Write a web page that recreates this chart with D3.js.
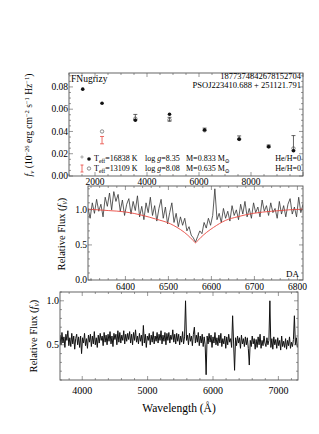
<!DOCTYPE html>
<html>
<head>
<meta charset="utf-8">
<script src="https://cdn.jsdelivr.net/npm/d3@7"></script>
<style>
  body { margin: 0; background: #fff; }
  svg { display: block; font-family: "Liberation Serif", "DejaVu Serif", serif; }
</style>
</head>
<body>
<svg width="319" height="434"></svg>
<script>
// Fotometría (FNugrizy)
const bands = ["F", "N", "u", "g", "r", "i", "z", "y"];
const bandWave = [1528, 2271, 3551, 4866, 6215, 7545, 8679, 9633];
const modelHot = [0.078, 0.0653, 0.050, 0.0554, 0.0413, 0.033, 0.0263, 0.0227];
const modelCool = [null, 0.040, 0.0515, 0.0505, 0.041, 0.0332, 0.0265, 0.0248];
const obsFlux = [null, null, 0.053, 0.051, 0.042, 0.0345, 0.0268, 0.0295];
const obsErr = [null, null, 0.0023, 0.0017, 0.001, 0.0015, 0.001, 0.0068];
const redWave = [2271];
const redFlux = [0.0322];
const redErr = [0.0033];

// Espectro alrededor de H-alfa
const haStart = 6313, haStep = 5;
const haFlux = [
  1.02, 0.88, 1.10, 0.95, 1.15, 0.98, 1.08, 0.90, 1.18, 1.05,
  1.24, 1.00, 1.26, 1.12, 1.22, 0.98, 1.14, 0.92, 1.08, 1.16,
  0.94, 1.12, 0.99, 1.20, 0.90, 1.05, 0.86, 1.10, 0.96, 1.18,
  0.92, 1.06, 0.84, 1.02, 1.15, 0.88, 1.04, 0.80, 0.96, 1.10,
  0.82, 0.95, 0.76, 0.90, 0.78, 0.88, 0.70, 0.76, 0.64, 0.60,
  0.54, 0.62, 0.70, 0.66, 0.82, 0.74, 0.88, 0.78, 0.92, 1.30,
  0.86, 0.95, 0.82, 1.02, 0.88, 0.98, 0.84, 1.06, 0.92, 1.00,
  0.86, 1.08, 0.94, 1.12, 0.90, 1.02, 0.88, 1.10, 0.96, 1.04,
  0.90, 1.14, 0.98, 1.06, 0.92, 1.10, 0.96, 1.02, 0.88, 1.12,
  0.94, 1.06, 0.90, 1.08, 1.16, 0.94, 1.04, 0.90, 1.18, 0.96,
  1.08
];
const haModelWave = [6313, 6360, 6400, 6441, 6470, 6505, 6520, 6537, 6550, 6558, 6563,
                     6568, 6576, 6589, 6605, 6633, 6660, 6697, 6740, 6780, 6813];
const haModelFlux = [1.01, 0.99, 0.97, 0.92, 0.87, 0.80, 0.75, 0.68, 0.61, 0.56, 0.53,
                     0.56, 0.61, 0.68, 0.75, 0.85, 0.90, 0.95, 0.98, 1.00, 1.01];

// Espectro completo
const specStart = 3660, specStep = 15;
const specFlux = [
  0.61, 0.50, 0.64, 0.52, 0.59, 0.47, 0.62, 0.55, 0.66, 0.49,
  0.58, 0.48, 0.63, 0.51, 0.60, 0.45, 0.57, 0.62, 0.50, 0.59,
  0.47, 0.60, 0.40, 0.58, 0.52, 0.63, 0.49, 0.57, 0.46, 0.61,
  0.53, 0.62, 0.48, 0.60, 0.51, 0.65, 0.50, 0.58, 0.47, 0.61,
  0.52, 0.63, 0.55, 0.60, 0.49, 0.64, 0.53, 0.61, 0.50, 0.62,
  0.54, 0.65, 0.51, 0.60, 0.48, 0.63, 0.56, 0.62, 0.50, 0.66,
  0.53, 0.64, 0.52, 0.61, 0.55, 0.66, 0.51, 0.62, 0.54, 0.63,
  0.56, 0.65, 0.52, 0.62, 0.50, 0.64, 0.55, 0.67, 0.53, 0.60,
  0.51, 0.63, 0.54, 0.61, 0.49, 0.72, 0.52, 0.62, 0.47, 0.60,
  0.55, 0.63, 0.50, 0.61, 0.53, 0.65, 0.51, 0.60, 0.54, 0.64,
  0.52, 0.62, 0.55, 0.66, 0.51, 0.61, 0.54, 0.64, 0.50, 0.63,
  0.55, 0.64, 0.52, 0.61, 0.56, 0.67, 0.53, 0.62, 0.51, 0.63,
  0.54, 0.62, 0.50, 0.60, 0.53, 0.65, 0.51, 0.59, 1.00, 0.55,
  0.61, 0.50, 0.63, 0.54, 0.60, 0.49, 0.62, 0.70, 0.52, 0.61,
  0.53, 0.64, 0.49, 0.60, 0.52, 0.62, 0.48, 0.59, 0.50, 0.16,
  0.60, 0.51, 0.63, 0.53, 0.61, 0.47, 0.59, 0.52, 0.64, 0.50,
  0.58, 0.49, 0.61, 0.52, 0.63, 0.48, 0.57, 0.51, 0.60, 0.46,
  0.59, 0.50, 0.62, 0.53, 0.57, 0.47, 0.83, 0.52, 0.21, 0.58,
  0.49, 0.60, 0.52, 0.58, 0.46, 0.61, 0.51, 0.57, 0.48, 0.59,
  0.50, 0.58, 0.46, 0.27, 0.55, 0.48, 0.60, 0.51, 0.57, 0.45,
  0.56, 0.47, 0.59, 0.50, 0.62, 0.46, 0.55, 0.49, 0.60, 0.52,
  0.48, 0.58, 0.50, 0.55, 1.00, 0.47, 0.57, 0.45, 0.59, 0.50,
  0.56, 0.46, 0.58, 0.49, 0.55, 0.44, 0.60, 0.48, 0.54, 0.47,
  0.57, 0.45, 0.55, 0.49, 0.59, 0.46, 0.53, 0.48, 0.56, 0.83,
  0.50, 0.58, 0.47
];

const svg = d3.select("svg");
const red = "#e8473f";

// Dibuja el marco con marcas hacia adentro en los cuatro lados
function drawFrame(g, x, y, o) {
  const [x0, x1] = x.range(), [yb, yt] = y.range();
  const isMajor = (v, step) => Math.abs(v / step - Math.round(v / step)) < 1e-6;
  const col = "#555";
  d3.range(o.xFrom, x.domain()[1] + 1e-9, o.xMinor).forEach(v => {
    if (v < x.domain()[0]) return;
    const len = isMajor(v, o.xMajor) ? 4 : 2;
    const px = x(v);
    g.append("line").attr("x1", px).attr("x2", px).attr("y1", yb).attr("y2", yb - len).attr("stroke", col).attr("stroke-width", 0.6);
    g.append("line").attr("x1", px).attr("x2", px).attr("y1", yt).attr("y2", yt + len).attr("stroke", col).attr("stroke-width", 0.6);
    if (isMajor(v, o.xMajor) && o.xLabels.includes(Math.round(v))) {
      g.append("text").attr("x", px).attr("y", yb + o.xLabelDy)
        .attr("text-anchor", "middle").attr("font-size", o.fs).text(Math.round(v));
    }
  });
  d3.range(o.yFrom, y.domain()[1] + 1e-9, o.yMinor).forEach(v => {
    if (v < y.domain()[0] - 1e-9) return;
    const len = isMajor(v, o.yMajor) ? 4 : 2;
    const py = y(v);
    g.append("line").attr("x1", x0).attr("x2", x0 + len).attr("y1", py).attr("y2", py).attr("stroke", col).attr("stroke-width", 0.6);
    g.append("line").attr("x1", x1).attr("x2", x1 - len).attr("y1", py).attr("y2", py).attr("stroke", col).attr("stroke-width", 0.6);
    if (isMajor(v, o.yMajor) && o.yLabels.some(l => Math.abs(l - v) < 1e-6)) {
      g.append("text").attr("x", x0 - 1).attr("y", py + o.fs * 0.33)
        .attr("text-anchor", "end").attr("font-size", o.fs).text(o.yFmt(v));
    }
  });
  g.append("rect").attr("x", x0).attr("y", yt).attr("width", x1 - x0).attr("height", yb - yt)
    .attr("fill", "none").attr("stroke", col).attr("stroke-width", 0.9);
}

// ---------- Panel 1: SED ----------
const x1 = d3.scaleLinear().domain([1000, 10000]).range([69, 303]);
const y1 = d3.scaleLinear().domain([0, 0.0925]).range([176, 73]);
const g1 = svg.append("g");

// barras de error observadas
bands.forEach((b, i) => {
  if (obsFlux[i] === null) return;
  const px = x1(bandWave[i]);
  g1.append("line").attr("x1", px).attr("x2", px)
    .attr("y1", y1(obsFlux[i] - obsErr[i])).attr("y2", y1(obsFlux[i] + obsErr[i]))
    .attr("stroke", "#222").attr("stroke-width", 0.7);
  [obsFlux[i] - obsErr[i], obsFlux[i] + obsErr[i]].forEach(v => {
    g1.append("line").attr("x1", px - 2).attr("x2", px + 2).attr("y1", y1(v)).attr("y2", y1(v))
      .attr("stroke", "#222").attr("stroke-width", 0.7);
  });
});
redWave.forEach((w, i) => {
  const px = x1(w);
  g1.append("line").attr("x1", px).attr("x2", px)
    .attr("y1", y1(redFlux[i] - redErr[i])).attr("y2", y1(redFlux[i] + redErr[i]))
    .attr("stroke", red).attr("stroke-width", 0.8);
  [redFlux[i] - redErr[i], redFlux[i] + redErr[i]].forEach(v => {
    g1.append("line").attr("x1", px - 2).attr("x2", px + 2).attr("y1", y1(v)).attr("y2", y1(v))
      .attr("stroke", red).attr("stroke-width", 0.8);
  });
});

// modelo frío (círculos abiertos)
g1.selectAll("circle.cool")
  .data(bandWave.map((w, i) => [w, modelCool[i]]).filter(d => d[1] !== null))
  .enter().append("circle")
  .attr("cx", d => x1(d[0])).attr("cy", d => y1(d[1])).attr("r", 1.7)
  .attr("fill", "none").attr("stroke", "#444").attr("stroke-width", 0.6);

// modelo caliente (puntos negros)
g1.selectAll("circle.hot")
  .data(bandWave.map((w, i) => [w, modelHot[i]]))
  .enter().append("circle")
  .attr("cx", d => x1(d[0])).attr("cy", d => y1(d[1])).attr("r", 1.8)
  .attr("fill", "#111");

drawFrame(g1, x1, y1, {
  xFrom: 1000, xMinor: 500, xMajor: 2000, xLabels: [2000, 4000, 6000, 8000], xLabelDy: 9,
  yFrom: 0, yMinor: 0.005, yMajor: 0.02, yLabels: [0, 0.02, 0.04, 0.06, 0.08],
  yFmt: d3.format(".2f"), fs: 9.5
});

g1.append("text").attr("x", 71).attr("y", 82).attr("font-size", 9.5).text("FNugrizy");
g1.append("text").attr("x", 301).attr("y", 79).attr("font-size", 8.5).attr("text-anchor", "end")
  .text("1877374842678152704");
g1.append("text").attr("x", 301).attr("y", 88).attr("font-size", 8.5).attr("text-anchor", "end")
  .text("PSOJ223410.688 + 251121.791");

// leyenda
const leg = [
  { y: 161, t: "16838", g: "8.35", m: "0.833" },
  { y: 171, t: "13109", g: "8.08", m: "0.635" }
];
g1.append("circle").attr("cx", 82).attr("cy", 157).attr("r", 1.1).attr("fill", "none").attr("stroke", "#555").attr("stroke-width", 0.5);
g1.append("circle").attr("cx", 89).attr("cy", 159).attr("r", 1.8).attr("fill", "#111");
g1.append("line").attr("x1", 82).attr("x2", 82).attr("y1", 165).attr("y2", 172).attr("stroke", red).attr("stroke-width", 0.8);
g1.append("line").attr("x1", 80.5).attr("x2", 83.5).attr("y1", 165).attr("y2", 165).attr("stroke", red).attr("stroke-width", 0.8);
g1.append("line").attr("x1", 80.5).attr("x2", 83.5).attr("y1", 172).attr("y2", 172).attr("stroke", red).attr("stroke-width", 0.8);
g1.append("circle").attr("cx", 89).attr("cy", 168.5).attr("r", 1.7).attr("fill", "none").attr("stroke", "#444").attr("stroke-width", 0.6);
leg.forEach(d => {
  const t = g1.append("text").attr("x", 94).attr("y", d.y).attr("font-size", 8);
  t.append("tspan").text("T");
  t.append("tspan").attr("font-size", 5.8).attr("dy", 1.5).text("eff");
  t.append("tspan").attr("dy", -1.5).text("=" + d.t + " K");
  const lg = g1.append("text").attr("x", 145).attr("y", d.y).attr("font-size", 8);
  lg.append("tspan").text("log ");
  lg.append("tspan").attr("font-style", "italic").text("g");
  lg.append("tspan").text("=" + d.g);
  const m = g1.append("text").attr("x", 186).attr("y", d.y).attr("font-size", 8);
  m.append("tspan").text("M=" + d.m + " M");
  m.append("tspan").attr("font-size", 5.8).attr("dy", 1.5).text("⊙");
  g1.append("text").attr("x", 301).attr("y", d.y).attr("font-size", 8).attr("text-anchor", "end").text("He/H=0");
});

// etiqueta eje y
const yl1 = svg.append("text").attr("transform", "translate(32,125) rotate(-90)")
  .attr("text-anchor", "middle").attr("font-size", 9.5);
yl1.append("tspan").attr("font-style", "italic").text("f");
yl1.append("tspan").attr("font-style", "italic").attr("font-size", 7).attr("dy", 1.5).text("ν");
yl1.append("tspan").attr("dy", -1.5).text(" (10");
yl1.append("tspan").attr("font-size", 6.5).attr("dy", -3.5).text("−26");
yl1.append("tspan").attr("dy", 3.5).text(" erg cm");
yl1.append("tspan").attr("font-size", 6.5).attr("dy", -3.5).text("−2");
yl1.append("tspan").attr("dy", 3.5).text(" s");
yl1.append("tspan").attr("font-size", 6.5).attr("dy", -3.5).text("−1");
yl1.append("tspan").attr("dy", 3.5).text(" Hz");
yl1.append("tspan").attr("font-size", 6.5).attr("dy", -3.5).text("−1");
yl1.append("tspan").attr("dy", 3.5).text(")");

// ---------- Panel 2: H-alfa ----------
const x2 = d3.scaleLinear().domain([6313, 6813]).range([88, 303]);
const y2 = d3.scaleLinear().domain([0, 1.34]).range([280, 186]);
const g2 = svg.append("g");
g2.append("clipPath").attr("id", "clip2").append("rect")
  .attr("x", 88).attr("y", 186).attr("width", 215).attr("height", 94);

const line2 = d3.line().x((d, i) => x2(haStart + i * haStep)).y(d => y2(d));
g2.append("path").datum(haFlux).attr("d", line2).attr("clip-path", "url(#clip2)")
  .attr("fill", "none").attr("stroke", "#333").attr("stroke-width", 0.8);

const model2 = d3.line().x(d => x2(d[0])).y(d => y2(d[1])).curve(d3.curveMonotoneX);
g2.append("path").datum(haModelWave.map((w, i) => [w, haModelFlux[i]])).attr("d", model2)
  .attr("fill", "none").attr("stroke", red).attr("stroke-width", 0.9);

drawFrame(g2, x2, y2, {
  xFrom: 6320, xMinor: 20, xMajor: 100, xLabels: [6400, 6500, 6600, 6700, 6800], xLabelDy: 9.5,
  yFrom: 0, yMinor: 0.1, yMajor: 0.5, yLabels: [0, 0.5, 1.0],
  yFmt: d3.format(".1f"), fs: 9.5
});
g2.append("text").attr("x", 299).attr("y", 277).attr("font-size", 9).attr("text-anchor", "end").text("DA");

const yl2 = svg.append("text").attr("transform", "translate(65,234) rotate(-90)")
  .attr("text-anchor", "middle").attr("font-size", 10.5);
yl2.append("tspan").text("Relative Flux (");
yl2.append("tspan").attr("font-style", "italic").text("f");
yl2.append("tspan").attr("font-style", "italic").attr("font-size", 7.5).attr("dy", 2).text("ν");
yl2.append("tspan").attr("dy", -2).text(")");

// ---------- Panel 3: espectro completo ----------
const x3 = d3.scaleLinear().domain([3660, 7300]).range([60, 298]);
const y3 = d3.scaleLinear().domain([0.1, 1.1]).range([380, 292]);
const g3 = svg.append("g");
g3.append("clipPath").attr("id", "clip3").append("rect")
  .attr("x", 60).attr("y", 292).attr("width", 238).attr("height", 88);

const line3 = d3.line().x((d, i) => x3(specStart + i * specStep)).y(d => y3(d));
g3.append("path").datum(specFlux).attr("d", line3).attr("clip-path", "url(#clip3)")
  .attr("fill", "none").attr("stroke", "#111").attr("stroke-width", 1);

drawFrame(g3, x3, y3, {
  xFrom: 3800, xMinor: 200, xMajor: 1000, xLabels: [4000, 5000, 6000, 7000], xLabelDy: 14,
  yFrom: 0.1, yMinor: 0.1, yMajor: 0.5, yLabels: [0.5, 1.0],
  yFmt: d3.format(".1f"), fs: 10
});

const yl3 = svg.append("text").attr("transform", "translate(37,336) rotate(-90)")
  .attr("text-anchor", "middle").attr("font-size", 10.5);
yl3.append("tspan").text("Relative Flux (");
yl3.append("tspan").attr("font-style", "italic").text("f");
yl3.append("tspan").attr("font-style", "italic").attr("font-size", 7.5).attr("dy", 2).text("ν");
yl3.append("tspan").attr("dy", -2).text(")");

svg.append("text").attr("x", 179).attr("y", 412).attr("text-anchor", "middle")
  .attr("font-size", 11.5).text("Wavelength (Å)");
</script>
</body>
</html>
